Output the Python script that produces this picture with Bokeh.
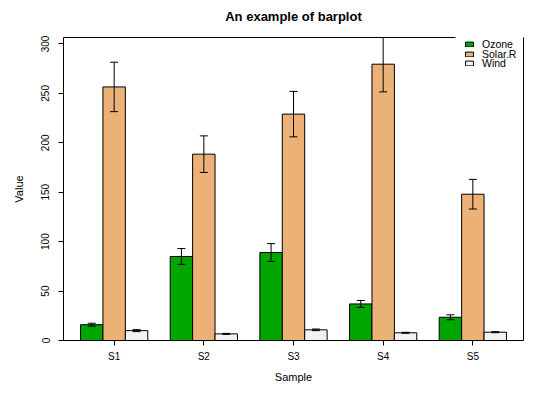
from bokeh.plotting import figure
from bokeh.models import Range1d, FixedTicker, Legend, LegendItem, ColumnDataSource, LinearAxis
from bokeh.embed import file_html
from bokeh.resources import INLINE

# ---- data ----
title_text = "An example of barplot"
samples = ["S1", "S2", "S3", "S4", "S5"]
series = ["Ozone", "Solar.R", "Wind"]
ozone = [16.0, 85.0, 89.0, 37.0, 23.5]
ozone_err = [1.5, 8.0, 9.0, 3.5, 2.5]
solar = [256.5, 188.5, 229.0, 279.5, 148.0]
solar_err = [25.0, 18.5, 23.0, 28.0, 15.0]
wind = [10.0, 6.7, 10.8, 7.8, 8.4]
wind_err = [1.0, 0.5, 0.8, 0.5, 0.5]
colors = ["#00A600", "#ECB176", "#F2F2F2"]
y_ticks = [0, 50, 100, 150, 200, 250, 300]

values = [ozone, solar, wind]
errors = [ozone_err, solar_err, wind_err]

FONT = "Liberation Sans"
X0, X1 = 0.24, 20.76

p = figure(width=530, height=390, output_backend="svg", toolbar_location=None,
           title=None,
           x_range=Range1d(X0, X1), y_range=Range1d(0, 306.5),
           min_border_left=63, min_border_right=7, min_border_top=37, min_border_bottom=50)

xa = p.below[0]
ya = p.left[0]

p.grid.visible = False
p.background_fill_color = "white"
p.border_fill_color = "white"
p.outline_line_color = None

n_series = len(series)
group_w = n_series + 1
centers = [group_w * g + 1 + n_series / 2 for g in range(len(samples))]

items = []
for k, name in enumerate(series):
    xs = [group_w * g + 1.5 + k for g in range(len(samples))]
    vals = values[k]
    errs = errors[k]
    src = ColumnDataSource(dict(x=xs, top=vals,
                                lo=[v - e for v, e in zip(vals, errs)],
                                hi=[v + e for v, e in zip(vals, errs)]))
    r = p.vbar(x="x", top="top", bottom=0, width=1, source=src,
               fill_color=colors[k], line_color="black", line_width=1)
    p.segment(x0="x", x1="x", y0="lo", y1="hi", source=src, line_color="black", line_width=1)
    p.scatter(x="x", y="lo", source=src, marker="dash", size=8, line_color="black", line_width=1)
    p.scatter(x="x", y="hi", source=src, marker="dash", size=8, line_color="black", line_width=1)
    items.append(LegendItem(label=name, renderers=[r]))

# one small legend per entry so the rows can sit as tightly as in the reference
legend_rows_y = [290, 280, 271]
for item, ly in zip(items, legend_rows_y):
    lg = Legend(items=[item], location=(401, ly), background_fill_alpha=0,
                border_line_color=None,
                label_text_font=FONT, label_text_font_size="10.5px",
                label_text_color="black",
                glyph_width=10, glyph_height=6, label_standoff=8, spacing=0,
                label_height=9, padding=4, margin=0)
    p.add_layout(lg)

# frame pieces: right edge and top edge (top edge stops where the legend begins)
right_ax = LinearAxis(ticker=FixedTicker(ticks=[]), axis_line_color="black",
                      major_tick_line_color=None, minor_tick_line_color=None,
                      major_tick_out=0, major_label_text_font_size="0px")
p.add_layout(right_ax, "right")
top_ax = LinearAxis(ticker=FixedTicker(ticks=[]), axis_line_color="black",
                    major_tick_line_color=None, minor_tick_line_color=None,
                    major_tick_out=0, major_label_text_font_size="0px",
                    bounds=(X0, 17.72))
p.add_layout(top_ax, "above")
# chart title, centred over the plotting frame
title_ax = LinearAxis(ticker=FixedTicker(ticks=[]), axis_line_color=None,
                      major_tick_line_color=None, minor_tick_line_color=None,
                      major_tick_out=0, major_label_text_font_size="0px",
                      axis_label=title_text, axis_label_text_font=FONT,
                      axis_label_text_font_size="13px", axis_label_text_font_style="bold",
                      axis_label_text_color="black", axis_label_standoff=14)
p.add_layout(title_ax, "above")

# x axis
xa.ticker = FixedTicker(ticks=centers)
xa.major_label_overrides = {c: s for c, s in zip(centers, samples)}
xa.axis_label = "Sample"
# y axis
ya.ticker = FixedTicker(ticks=y_ticks)
ya.axis_label = "Value"
ya.major_label_orientation = "vertical"

for ax in (xa, ya):
    ax.axis_line_color = "black"
    ax.major_tick_line_color = "black"
    ax.major_tick_out = 5
    ax.major_tick_in = 0
    ax.minor_tick_line_color = None
    ax.major_label_text_font = FONT
    ax.major_label_text_font_size = "10px"
    ax.major_label_text_color = "black"
    ax.axis_label_text_font = FONT
    ax.axis_label_text_font_size = "11px"
    ax.axis_label_text_font_style = "normal"
    ax.axis_label_text_color = "black"

xa.major_label_standoff = 5
xa.axis_label_standoff = 6
ya.major_label_standoff = 9
ya.axis_label_standoff = 14

open("out.html", "w").write(file_html(p, INLINE))
